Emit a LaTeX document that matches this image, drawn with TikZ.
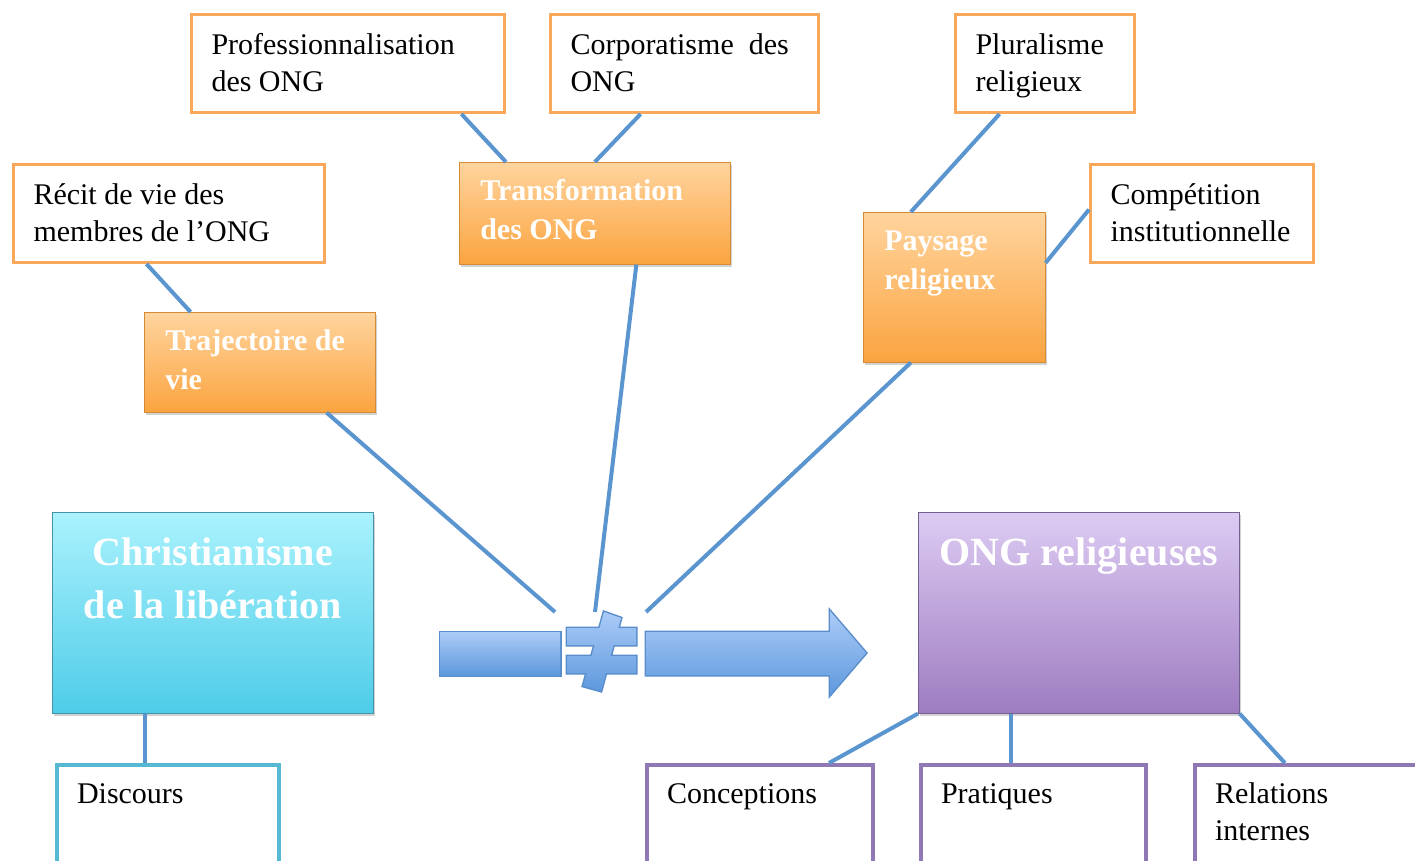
\documentclass[tikz,border=0pt]{standalone}
\usepackage{fontspec}
\setmainfont{Liberation Serif}
\usepackage{xcolor}
\definecolor{ongorange}{HTML}{F9A75B}
\definecolor{orangetop}{HTML}{FFD49E}
\definecolor{orangebot}{HTML}{FBA440}
\definecolor{aqualine}{HTML}{56B8D2}
\definecolor{aquatop}{HTML}{AAF2FD}
\definecolor{aquabot}{HTML}{4ECCE8}
\definecolor{violetline}{HTML}{8F78B4}
\definecolor{violettop}{HTML}{DDCBF3}
\definecolor{violetbot}{HTML}{9D7CC0}
\definecolor{linkblue}{HTML}{5B95D0}
\definecolor{arrowtop}{HTML}{ABCBF7}
\definecolor{arrowbot}{HTML}{5E99DD}
\definecolor{arrowline}{HTML}{5A8DCB}
\usepackage{tikz}
\usetikzlibrary{calc,shadows}

\begin{document}
\begin{tikzpicture}[
  x=1pt, y=-1pt,
  note/.style={draw=ongorange, line width=3pt, fill=white, anchor=north west, align=flush left,
    inner xsep=20pt, inner ysep=16pt, text height=24pt, text depth=42pt,
    font=\fontsize{30}{37}\selectfont},
  theme/.style={draw=orangebot!85!black, line width=0.6pt, top color=orangetop, bottom color=orangebot,
    anchor=north west, align=flush left, inner xsep=21pt, inner ysep=14pt, text height=24pt,
    text=white, font=\bfseries\fontsize{30}{39}\selectfont,
    drop shadow={shadow xshift=2pt, shadow yshift=-3pt, opacity=0.35}},
  pole/.style={line width=0.6pt, anchor=north west, align=flush center, inner xsep=10pt, inner ysep=14pt,
    text width=301pt, text height=39pt, text depth=134pt,
    text=white, font=\bfseries\fontsize{40}{53}\selectfont,
    drop shadow={shadow xshift=2pt, shadow yshift=-3pt, opacity=0.35}},
  facet/.style={draw=#1, line width=4pt, fill=white, anchor=north west, align=flush left,
    inner xsep=20pt, inner ysep=16pt, text height=22pt, text depth=80pt,
    font=\fontsize{30}{37}\selectfont},
  link/.style={draw=linkblue, line width=4pt},
  arrowpart/.style={preaction={draw=arrowline, line width=3pt}, top color=arrowtop, bottom color=arrowbot}
]
\useasboundingbox (0,0) rectangle (1415,861);

% Sources (white boxes)
\node[note, text width=273pt] (prof) at (190,13) {Professionnalisation\\des ONG};
\node[note, text width=228pt] (corp) at (549,13) {Corporatisme\enspace des\\ONG};
\node[note, text width=139pt] (plur) at (954,13) {Pluralisme\\religieux};
\node[note, text width=271pt] (recit) at (12,163) {Récit de vie des\\membres de l’ONG};
\node[note, text width=183pt] (comp) at (1089,163) {Compétition\\institutionnelle};

% Themes (orange)
\node[theme, text width=229pt, text depth=50pt] (trans) at (459,162) {Transformation\\des ONG};
\node[theme, text width=189pt, text depth=48pt] (traj) at (144,312) {Trajectoire de\\vie};
\node[theme, text width=140pt, text depth=98pt] (pays) at (863,212) {Paysage\\religieux};

% Poles
\node[pole, draw=aqualine!80!black, top color=aquatop, bottom color=aquabot] (christ) at (52,512)
  {Christianisme\\de la libération};
\node[pole, draw=violetline!80!black, top color=violettop, bottom color=violetbot] (ong) at (918,512)
  {ONG religieuses};

% Facets
\node[facet=aqualine, text width=182pt] (disc) at (55,763) {Discours};
\node[facet=violetline, text width=186pt] (conc) at (645,763) {Conceptions};
\node[facet=violetline, text width=185pt] (prat) at (919,763) {Pratiques};
\node[facet=violetline, text width=190pt] (rel) at (1193,763) {Relations\\internes};

% Arrow with not-equal sign
\path[arrowpart] (440,632) rectangle (560,675);
\path[arrowpart] (567,628) -- (636,628) -- (636,645) -- (567,645) -- cycle
  (567,656) -- (636,656) -- (636,673) -- (567,673) -- cycle
  (604,612) -- (621,618) -- (601,691) -- (583,686) -- cycle;
\path[arrowpart] (646,632) -- (830,632) -- (830,611) -- (866,653) -- (830,695) -- (830,675) -- (646,675) -- cycle;
\coordinate (neqA) at (555,612);
\coordinate (neqB) at (595,612);
\coordinate (neqC) at (646,612);

% Links
\draw[link] (prof.-24) -- (trans.150);
\draw[link] (corp.-131) -- (trans.north);
\draw[link] (recit.-114) -- (traj.144);
\draw[link] (plur.-132) -- (pays.120);
\draw[link] (comp.178) -- (pays.15);
\draw[link] (traj.-37) -- (neqA);
\draw[link] (trans.-51) -- (neqB);
\draw[link] (pays.-120) -- (neqC);
\draw[link] (christ.-124) -- (christ.-124 |- disc.north);
\draw[link] (ong.south west) -- (conc.45);
\draw[link] (ong.-124) -- (ong.-124 |- prat.north);
\draw[link] (ong.south east) -- (rel.110);

\end{tikzpicture}
\end{document}
